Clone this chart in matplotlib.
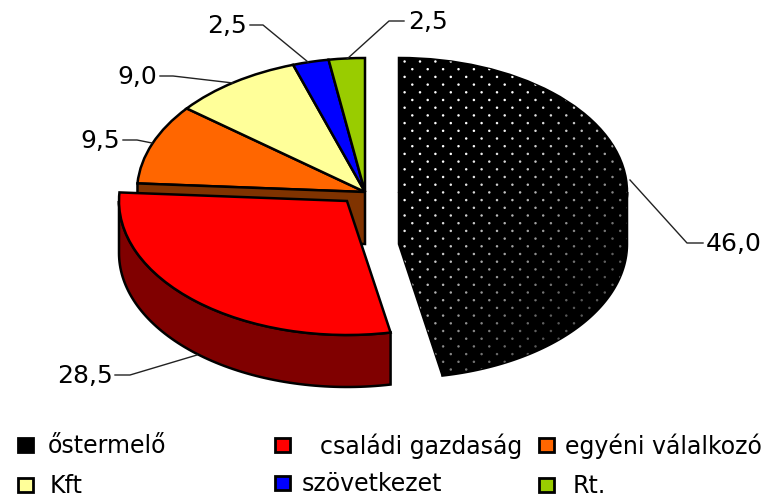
import numpy as np
import matplotlib
matplotlib.use("Agg")
import matplotlib.pyplot as plt
from matplotlib.patches import Polygon, Rectangle
from matplotlib.transforms import Affine2D

labels = ["őstermelő", "családi gazdaság", "egyéni válalkozó", "Kft", "szövetkezet", "Rt."]
values = [46.0, 28.5, 9.5, 9.0, 2.5, 2.5]
value_labels = ["46,0", "28,5", "9,5", "9,0", "2,5", "2,5"]
colors = ["#000000", "#ff0000", "#ff6600", "#ffff99", "#0000ff", "#99cc00"]
side_colors = {0: "#000000", 1: "#800000", 2: "#803300"}

W, H = 763, 497
# pie geometry in reference pixels
cx, cy, rx, ry = 365, 192, 228, 134
depth = 52 / ry
offsets = {0: ((399 - cx) / rx, 0), 1: ((347 - cx) / rx, (cy - 201) / ry)}

fig = plt.figure(figsize=(W / 100, H / 100), dpi=100)
ax = fig.add_axes([0, 0, 1, 1])
px = Affine2D().scale(1 / W, -1 / H).translate(0, 1) + fig.transFigure

wedges, _ = ax.pie(values, colors=colors, startangle=90, counterclock=False, radius=1,
                   wedgeprops=dict(edgecolor="black", linewidth=1.8))
ax.set_aspect("auto")
ax.set_xlim(-cx / rx, (W - cx) / rx)
ax.set_ylim((cy - H) / ry, cy / ry)
ax.axis("off")


def point(c, a):
    return c[0] + np.cos(np.radians(a)), c[1] + np.sin(np.radians(a))


def outer_wall(i):
    w = wedges[i]
    c = w.center
    a1, a2 = max(w.theta1, -180), min(w.theta2, 0)
    t = np.radians(np.linspace(a1, a2, 80))
    top = np.column_stack([c[0] + np.cos(t), c[1] + np.sin(t)])
    low = top[::-1] - [0, depth]
    return Polygon(np.vstack([top, low]), closed=True, fc=side_colors[i], ec="black", lw=1.8, zorder=3)


def cut_wall(i, a):
    c = wedges[i].center
    p = point(c, a)
    return Polygon([c, p, (p[0], p[1] - depth), (c[0], c[1] - depth)], closed=True,
                   fc=side_colors[i], ec="black", lw=1.8, zorder=2)


for i, off in offsets.items():
    wedges[i].set_center(off)

for w in wedges:
    w.set_zorder(2)

# brown cut face of the orange slice, behind the red one
ax.add_patch(cut_wall(2, wedges[2].theta2))

ax.add_patch(outer_wall(1))
wedges[1].set_zorder(4)

wall0 = ax.add_patch(outer_wall(0))
cut0 = ax.add_patch(cut_wall(0, wedges[0].theta1))
cut0.set_zorder(3)
wedges[0].set_zorder(4)

# white dots on the black slice
xs, ys, shade = [], [], []
for n, y in enumerate(np.arange(61.5, 380, 7.7)):
    for x in np.arange(404.6 + (n % 2) * 7.7, 640, 15.4):
        xs.append((x - cx) / rx)
        ys.append((cy - y) / ry)
        shade.append(np.clip(1.25 - (x + y - 500) / 420, 0.35, 1))
dot_colors = np.column_stack([np.ones(len(xs))] * 3 + [shade])
for patch in [wedges[0], wall0, cut0]:
    dots = ax.scatter(xs, ys, s=3.2, c=dot_colors, linewidths=0, zorder=5)
    dots.set_clip_path(patch)

# leader lines
leaders = [
    ([630, 687, 703], [180, 243, 243]),
    ([197, 130, 115], [355, 375, 375]),
    ([152, 137, 123], [143, 140, 140]),
    ([233, 173, 160], [83, 76, 76]),
    ([308, 263, 250], [62, 25, 25]),
    ([347, 389, 404], [59, 21, 21]),
]
for lx, ly in leaders:
    ax.plot(lx, ly, color="#222222", lw=1, transform=px, clip_on=False, zorder=6)

label_pos = [(706, 244, "left"), (113, 376, "right"), (120, 141, "right"),
             (157, 77, "right"), (247, 26, "right"), (408, 22, "left")]
for (x, y, ha), s in zip(label_pos, value_labels):
    ax.text(x, y, s, transform=px, ha=ha, va="center", fontsize=18, color="black")

# legend
boxes = [(18, 438), (275, 438), (539, 438), (18, 478), (275, 476), (539, 478)]
text_x = [48, 320, 565, 50, 302, 573]
text_y = [446, 446, 446, 486, 484, 486]
for i in range(6):
    ax.add_patch(Rectangle(boxes[i], 15, 14, fc=colors[i], ec="black", lw=2, transform=px, clip_on=False))
    ax.text(text_x[i], text_y[i], labels[i], transform=px, ha="left", va="center", fontsize=17, color="black")

fig.savefig("out.png", dpi=100)
